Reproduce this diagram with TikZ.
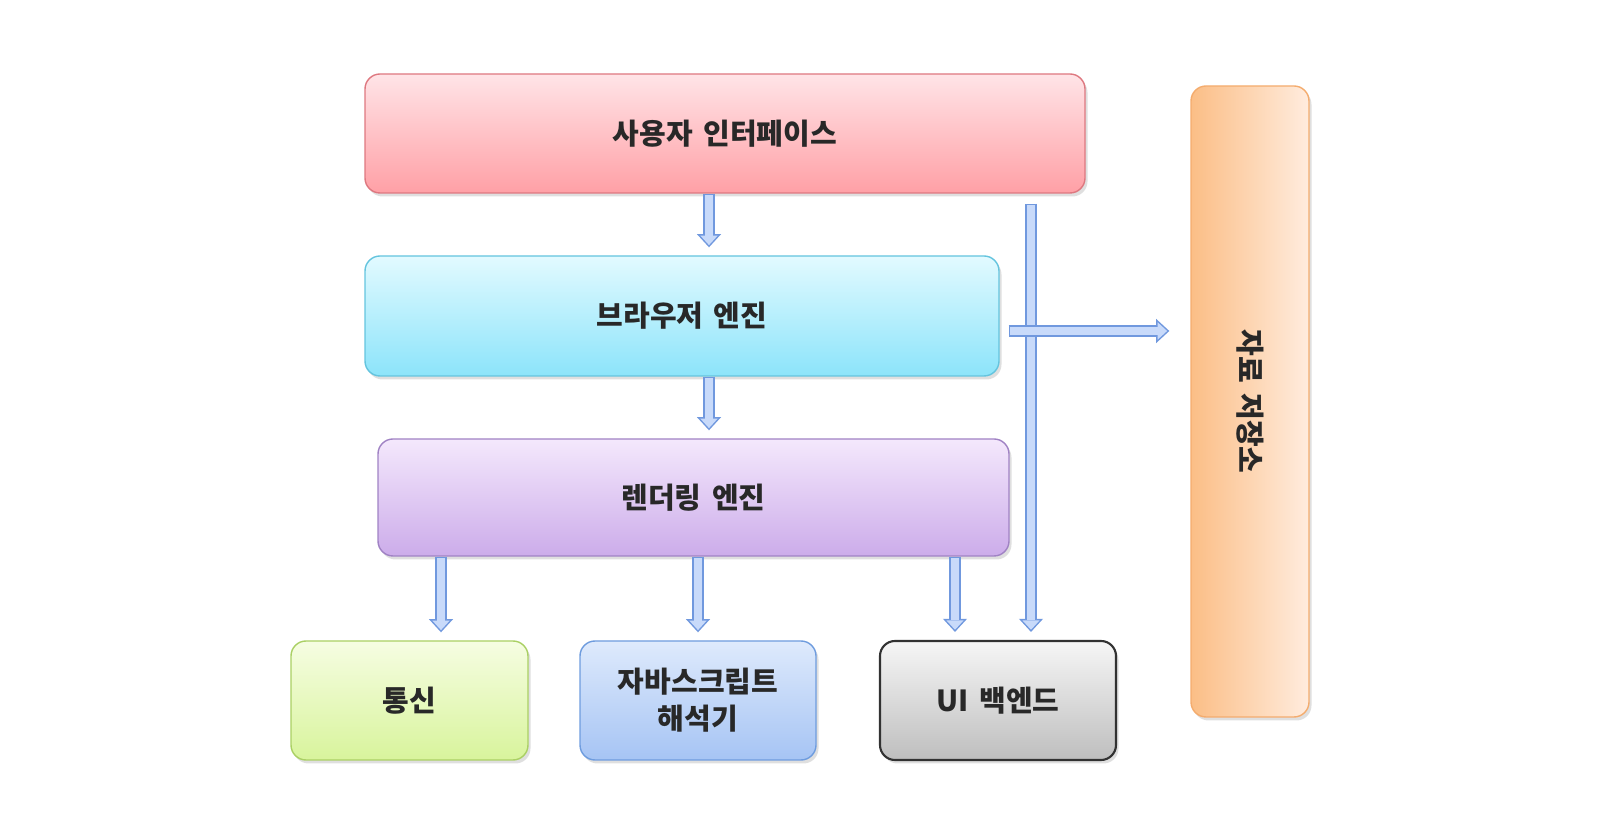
\documentclass[tikz,border=0pt]{standalone}
\usepackage{fontspec}
\setmainfont{Noto Sans CJK KR}[WordSpace=1.6]
\usetikzlibrary{arrows.meta,shadows}

\definecolor{textgray}{RGB}{40,40,40}
\definecolor{arrowline}{RGB}{112,152,222}
\definecolor{arrowfill}{RGB}{200,218,250}

\begin{document}
\begin{tikzpicture}[
  block/.style={rounded corners=0.3cm,minimum height=2.38cm,line width=0.8pt,
    font=\bfseries\fontsize{16.5}{21}\selectfont,text=textgray,align=center,
    drop shadow={opacity=0.25,shadow xshift=0.05cm,shadow yshift=-0.07cm}},
  fat arrow/.style 2 args={draw=arrowfill,line width=4.6pt,
    -{Triangle[width=9.9pt,length=5.4pt,line width=0pt]},
    shorten <=#1+0.85pt,shorten >=#2+1.25pt,
    preaction={draw=arrowline,line width=6.3pt,
      -{Triangle[width=13.8pt,length=7.5pt,line width=0pt]},
      shorten <=#1,shorten >=#2}}]

  \useasboundingbox (0,0) rectangle (32,16.8);

  \node[block,minimum width=14.4cm,top color={rgb,255:red,255;green,228;blue,231},
    bottom color={rgb,255:red,255;green,160;blue,166},draw={rgb,255:red,222;green,120;blue,128}]
    (ui) at (14.5,14.13) {사용자 인터페이스};
  \node[block,minimum width=12.68cm,minimum height=2.4cm,top color={rgb,255:red,226;green,250;blue,255},
    bottom color={rgb,255:red,140;green,228;blue,250},draw={rgb,255:red,100;green,196;blue,222}]
    (browser) at (13.64,10.48) {브라우저 엔진};
  \node[block,minimum width=12.62cm,minimum height=2.34cm,top color={rgb,255:red,244;green,232;blue,252},
    bottom color={rgb,255:red,204;green,172;blue,234},draw={rgb,255:red,160;green,130;blue,196}]
    (render) at (13.87,6.85) {렌더링 엔진};
  \node[block,minimum width=4.74cm,top color={rgb,255:red,246;green,253;blue,226},
    bottom color={rgb,255:red,216;green,244;blue,156},draw={rgb,255:red,170;green,208;blue,100}]
    (net) at (8.19,2.79) {통신};
  \node[block,minimum width=4.72cm,top color={rgb,255:red,222;green,234;blue,252},
    bottom color={rgb,255:red,166;green,196;blue,244},draw={rgb,255:red,110;green,156;blue,222}]
    (js) at (13.96,2.79) {자바스크립트\\해석기};
  \node[block,minimum width=4.72cm,line width=1.2pt,top color={rgb,255:red,246;green,246;blue,246},
    bottom color={rgb,255:red,190;green,190;blue,190},draw={rgb,255:red,50;green,50;blue,50}]
    (backend) at (19.96,2.79) {UI 백엔드};
  \node[block,minimum width=2.36cm,minimum height=12.62cm,left color={rgb,255:red,251;green,190;blue,134},
    right color={rgb,255:red,255;green,236;blue,222},draw={rgb,255:red,244;green,172;blue,110}]
    (store) at (25,8.77) {};
  \node[font=\bfseries\fontsize{16.5}{21}\selectfont,text=textgray,rotate=-90] (storetext) at (store.center) {자료 저장소};

  \coordinate (xa) at (14.18,0);
  \coordinate (xb) at (8.82,0);
  \coordinate (xc) at (13.96,0);
  \coordinate (xd) at (19.1,0);
  \coordinate (xe) at (20.62,0);
  \coordinate (hy) at (0,10.18);

  \draw[fat arrow={0pt}{0.16cm}] (ui.south -| xa) -- (browser.north -| xa);
  \draw[fat arrow={0pt}{0.16cm}] (browser.south -| xa) -- (render.north -| xa);
  \draw[fat arrow={0pt}{0.16cm}] (render.south -| xb) -- (net.north -| xb);
  \draw[fat arrow={0pt}{0.16cm}] (render.south -| xc) -- (js.north -| xc);
  \draw[fat arrow={0pt}{0.16cm}] (render.south -| xd) -- (backend.north -| xd);
  \draw[fat arrow={0.2cm}{0.16cm}] (ui.south -| xe) -- (backend.north -| xe);
  \draw[fat arrow={0.18cm}{0.42cm}] (browser.east |- hy) -- (store.west |- hy);

\end{tikzpicture}
\end{document}
